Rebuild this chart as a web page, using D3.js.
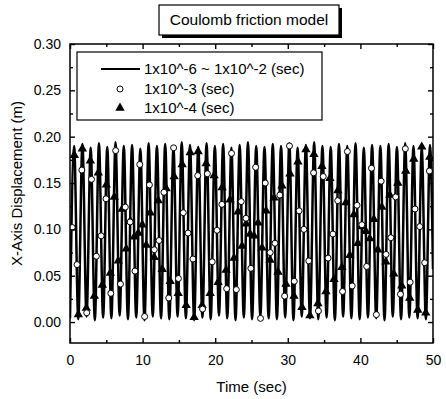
<!DOCTYPE html>
<html lang="en">
<head>
  <meta charset="UTF-8">
  <title>Coulomb friction model</title>
  <script src="https://d3js.org/d3.v7.min.js"></script>
  <style>
    body {
      margin: 0;
      background: #fff;
      font-family: "Liberation Sans", Arial, sans-serif;
    }
    svg text { fill: #000; }
  </style>
</head>
<body>
  <div id="chart"></div>
  <script>
    // turning points of the displacement curve (all step sizes overlap)
    const lineT = [
      0, 0.57, 1.14, 1.71, 2.28, 2.85, 3.42, 3.99,
      4.56, 5.13, 5.70, 6.27, 6.84, 7.41, 7.98, 8.55,
      9.12, 9.69, 10.26, 10.83, 11.40, 11.97, 12.54, 13.11,
      13.68, 14.25, 14.82, 15.39, 15.96, 16.53, 17.10, 17.67,
      18.24, 18.81, 19.38, 19.95, 20.52, 21.09, 21.66, 22.23,
      22.80, 23.37, 23.94, 24.51, 25.08, 25.65, 26.22, 26.79,
      27.36, 27.93, 28.50, 29.07, 29.64, 30.21, 30.78, 31.35,
      31.92, 32.49, 33.06, 33.63, 34.20, 34.77, 35.34, 35.91,
      36.48, 37.05, 37.62, 38.19, 38.76, 39.33, 39.90, 40.47,
      41.04, 41.61, 42.18, 42.75, 43.32, 43.89, 44.46, 45.03,
      45.60, 46.17, 46.74, 47.31, 47.88, 48.45, 49.02, 49.59,
      50.00
    ];
    const lineY = [
      0.004, 0.190, 0.003, 0.192, 0.006, 0.188, 0.002, 0.193,
      0.005, 0.189, 0.004, 0.194, 0.007, 0.190, 0.003, 0.191,
      0.005, 0.187, 0.002, 0.193, 0.006, 0.190, 0.004, 0.192,
      0.003, 0.188, 0.006, 0.194, 0.004, 0.191, 0.002, 0.189,
      0.005, 0.193, 0.003, 0.190, 0.007, 0.192, 0.004, 0.188,
      0.002, 0.191, 0.005, 0.194, 0.003, 0.190, 0.006, 0.189,
      0.004, 0.192, 0.003, 0.190, 0.005, 0.193, 0.002, 0.188,
      0.006, 0.191, 0.004, 0.194, 0.003, 0.190, 0.005, 0.189,
      0.002, 0.192, 0.006, 0.190, 0.004, 0.193, 0.003, 0.188,
      0.005, 0.191, 0.004, 0.190, 0.002, 0.192, 0.006, 0.189,
      0.003, 0.193, 0.005, 0.190, 0.004, 0.188, 0.003, 0.191,
      0.057
    ];

    // 1x10^-3 (sec) samples (open circles)
    const circT = [
      0.30, 0.97, 1.63, 2.30, 2.96, 3.63, 4.29, 4.96, 5.62, 6.29, 6.95, 7.62,
      8.28, 8.95, 9.61, 10.28, 10.94, 11.61, 12.27, 12.94, 13.60, 14.27, 14.93, 15.60,
      16.26, 16.93, 17.59, 18.26, 18.92, 19.59, 20.25, 20.92, 21.58, 22.25, 22.91, 23.58,
      24.24, 24.91, 25.57, 26.24, 26.90, 27.57, 28.23, 28.90, 29.56, 30.23, 30.89, 31.56,
      32.22, 32.89, 33.55, 34.22, 34.88, 35.55, 36.21, 36.88, 37.54, 38.21, 38.87, 39.54,
      40.20, 40.87, 41.53, 42.20, 42.86, 43.53, 44.19, 44.86, 45.52, 46.19, 46.85, 47.52,
      48.18, 48.85, 49.51
    ];
    const circY = [
      0.102, 0.062, 0.164, 0.010, 0.154, 0.071, 0.093, 0.133, 0.031, 0.185, 0.041, 0.124,
      0.108, 0.055, 0.170, 0.006, 0.148, 0.078, 0.088, 0.140, 0.026, 0.188, 0.047, 0.118,
      0.096, 0.068, 0.158, 0.014, 0.160, 0.065, 0.099, 0.127, 0.036, 0.182, 0.035, 0.130,
      0.112, 0.058, 0.167, 0.004, 0.150, 0.075, 0.085, 0.137, 0.028, 0.190, 0.044, 0.120,
      0.100, 0.066, 0.161, 0.012, 0.157, 0.069, 0.095, 0.131, 0.033, 0.184, 0.039, 0.126,
      0.105, 0.060, 0.166, 0.008, 0.152, 0.073, 0.091, 0.135, 0.030, 0.187, 0.043, 0.122,
      0.103, 0.064, 0.163
    ];

    // 1x10^-4 (sec) samples (filled triangles)
    const triT = [
      0.60, 1.15, 1.70, 2.25, 2.80, 3.35, 3.90, 4.45, 5.00, 5.55,
      6.10, 6.65, 7.20, 7.75, 8.30, 8.85, 9.40, 9.95, 10.50, 11.05,
      11.60, 12.15, 12.70, 13.25, 13.80, 14.35, 14.90, 15.45, 16.00, 16.55,
      17.10, 17.65, 18.20, 18.75, 19.30, 19.85, 20.40, 20.95, 21.50, 22.05,
      22.60, 23.15, 23.70, 24.25, 24.80, 25.35, 25.90, 26.45, 27.00, 27.55,
      28.10, 28.65, 29.20, 29.75, 30.30, 30.85, 31.40, 31.95, 32.50, 33.05,
      33.60, 34.15, 34.70, 35.25, 35.80, 36.35, 36.90, 37.45, 38.00, 38.55,
      39.10, 39.65, 40.20, 40.75, 41.30, 41.85, 42.40, 42.95, 43.50, 44.05,
      44.60, 45.15, 45.70, 46.25, 46.80, 47.35, 47.90, 48.45, 49.00, 49.55
    ];
    const triY = [
      0.180, 0.008, 0.187, 0.015, 0.174, 0.028, 0.161, 0.040, 0.148, 0.053,
      0.135, 0.066, 0.122, 0.079, 0.109, 0.092, 0.096, 0.105, 0.083, 0.118,
      0.070, 0.131, 0.057, 0.144, 0.044, 0.157, 0.031, 0.170, 0.018, 0.183,
      0.005, 0.184, 0.018, 0.171, 0.031, 0.158, 0.043, 0.145, 0.056, 0.132,
      0.069, 0.119, 0.082, 0.106, 0.095, 0.093, 0.107, 0.080, 0.120, 0.067,
      0.134, 0.054, 0.147, 0.041, 0.160, 0.028, 0.173, 0.016, 0.186, 0.007,
      0.181, 0.020, 0.168, 0.033, 0.155, 0.046, 0.142, 0.059, 0.129, 0.072,
      0.116, 0.085, 0.103, 0.098, 0.090, 0.111, 0.078, 0.124, 0.065, 0.137,
      0.052, 0.150, 0.039, 0.163, 0.026, 0.176, 0.013, 0.189, 0.010, 0.178
    ];

    const xMajor = [0, 10, 20, 30, 40, 50];
    const xMinor = [5, 15, 25, 35, 45];
    const yMajor = [0.00, 0.05, 0.10, 0.15, 0.20, 0.25, 0.30];
    const yMinor = [0.025, 0.075, 0.125, 0.175, 0.225, 0.275];

    const legendLabels = ["1x10^-6 ~ 1x10^-2 (sec)", "1x10^-3 (sec)", "1x10^-4 (sec)"];
    const titleText = "Coulomb friction model";

    const W = 446, H = 399;
    const pL = 70, pR = 433, pT = 44, pB = 343;

    const svg = d3.select("#chart").append("svg")
      .attr("width", W)
      .attr("height", H);

    const x = d3.scaleLinear().domain([0, 50]).range([pL, pR]);
    const y = d3.scaleLinear().domain([-0.0226, 0.30]).range([pB, pT]);

    // data
    const lineData = d3.zip(lineT, lineY);
    const line = d3.line()
      .x(d => x(d[0]))
      .y(d => y(d[1]))
      .curve(d3.curveMonotoneX);

    svg.append("clipPath").attr("id", "clip")
      .append("rect")
      .attr("x", pL).attr("y", pT)
      .attr("width", pR - pL).attr("height", pB - pT);

    const plot = svg.append("g").attr("clip-path", "url(#clip)");

    plot.append("path")
      .datum(lineData)
      .attr("d", line)
      .attr("fill", "none")
      .attr("stroke", "#000")
      .attr("stroke-width", 2.5);

    plot.selectAll("path.tri")
      .data(d3.zip(triT, triY))
      .join("path")
      .attr("class", "tri")
      .attr("transform", d => `translate(${x(d[0])},${y(d[1])})`)
      .attr("d", d3.symbol(d3.symbolTriangle).size(38))
      .attr("fill", "#000");

    plot.selectAll("circle.c")
      .data(d3.zip(circT, circY))
      .join("circle")
      .attr("class", "c")
      .attr("cx", d => x(d[0]))
      .attr("cy", d => y(d[1]))
      .attr("r", 3)
      .attr("fill", "#fff")
      .attr("stroke", "#000")
      .attr("stroke-width", 1);

    // frame
    svg.append("rect")
      .attr("x", pL).attr("y", pT)
      .attr("width", pR - pL).attr("height", pB - pT)
      .attr("fill", "none")
      .attr("stroke", "#000")
      .attr("stroke-width", 1.5);

    // axes, ticks pointing inwards
    const fontSize = 14;
    const styleAxis = g => {
      g.select(".domain").remove();
      g.selectAll("line").attr("stroke", "#000").attr("stroke-width", 1.4);
      g.selectAll("text").attr("font-size", fontSize)
        .attr("font-family", "'Liberation Sans', Arial, sans-serif");
    };

    svg.append("g")
      .attr("transform", `translate(0,${pB})`)
      .call(d3.axisBottom(x).tickValues(xMajor).tickSize(-5).tickPadding(12).tickFormat(d3.format("d")))
      .call(styleAxis);
    svg.append("g")
      .attr("transform", `translate(0,${pB})`)
      .call(d3.axisBottom(x).tickValues(xMinor).tickSize(-3).tickFormat(""))
      .call(styleAxis);
    svg.append("g")
      .attr("transform", `translate(0,${pT})`)
      .call(d3.axisTop(x).tickValues(xMajor).tickSize(-5).tickFormat(""))
      .call(styleAxis);
    svg.append("g")
      .attr("transform", `translate(0,${pT})`)
      .call(d3.axisTop(x).tickValues(xMinor).tickSize(-3).tickFormat(""))
      .call(styleAxis);

    svg.append("g")
      .attr("transform", `translate(${pL},0)`)
      .call(d3.axisLeft(y).tickValues(yMajor).tickSize(-5).tickPadding(9).tickFormat(d3.format(".2f")))
      .call(styleAxis);
    svg.append("g")
      .attr("transform", `translate(${pL},0)`)
      .call(d3.axisLeft(y).tickValues(yMinor).tickSize(-3).tickFormat(""))
      .call(styleAxis);
    svg.append("g")
      .attr("transform", `translate(${pR},0)`)
      .call(d3.axisRight(y).tickValues(yMajor).tickSize(-5).tickFormat(""))
      .call(styleAxis);
    svg.append("g")
      .attr("transform", `translate(${pR},0)`)
      .call(d3.axisRight(y).tickValues(yMinor).tickSize(-3).tickFormat(""))
      .call(styleAxis);

    // axis titles
    svg.append("text")
      .attr("x", (pL + pR) / 2)
      .attr("y", 392)
      .attr("text-anchor", "middle")
      .attr("font-size", 15)
      .text("Time (sec)");

    svg.append("text")
      .attr("transform", `translate(22,${(pT + pB) / 2 - 10}) rotate(-90)`)
      .attr("text-anchor", "middle")
      .attr("font-size", 15)
      .text("X-Axis Displacement (m)");

    // title box with shadow
    const tb = { x: 159, y: 5, w: 180, h: 30 };
    svg.append("rect")
      .attr("x", tb.x + 3).attr("y", tb.y + 3)
      .attr("width", tb.w).attr("height", tb.h)
      .attr("fill", "#000");
    svg.append("rect")
      .attr("x", tb.x).attr("y", tb.y)
      .attr("width", tb.w).attr("height", tb.h)
      .attr("fill", "#fff")
      .attr("stroke", "#000")
      .attr("stroke-width", 1.2);
    svg.append("text")
      .attr("x", tb.x + tb.w / 2)
      .attr("y", tb.y + 20)
      .attr("text-anchor", "middle")
      .attr("font-size", 15.5)
      .text(titleText);

    // legend
    const lg = svg.append("g");
    lg.append("rect")
      .attr("x", 77).attr("y", 52)
      .attr("width", 245).attr("height", 68)
      .attr("fill", "#fff")
      .attr("stroke", "#000")
      .attr("stroke-width", 1.2);

    const rowY = [69, 89, 108];
    lg.append("line")
      .attr("x1", 101).attr("x2", 140)
      .attr("y1", rowY[0]).attr("y2", rowY[0])
      .attr("stroke", "#000").attr("stroke-width", 2);
    lg.append("circle")
      .attr("cx", 120).attr("cy", rowY[1])
      .attr("r", 3)
      .attr("fill", "#fff").attr("stroke", "#000");
    lg.append("path")
      .attr("transform", `translate(120,${rowY[2]})`)
      .attr("d", d3.symbol(d3.symbolTriangle).size(38)());
    lg.selectAll("text.lab")
      .data(legendLabels)
      .join("text")
      .attr("class", "lab")
      .attr("x", 144)
      .attr("y", (d, i) => rowY[i])
      .attr("dy", "0.35em")
      .attr("font-size", 15)
      .text(d => d);
  </script>
</body>
</html>
